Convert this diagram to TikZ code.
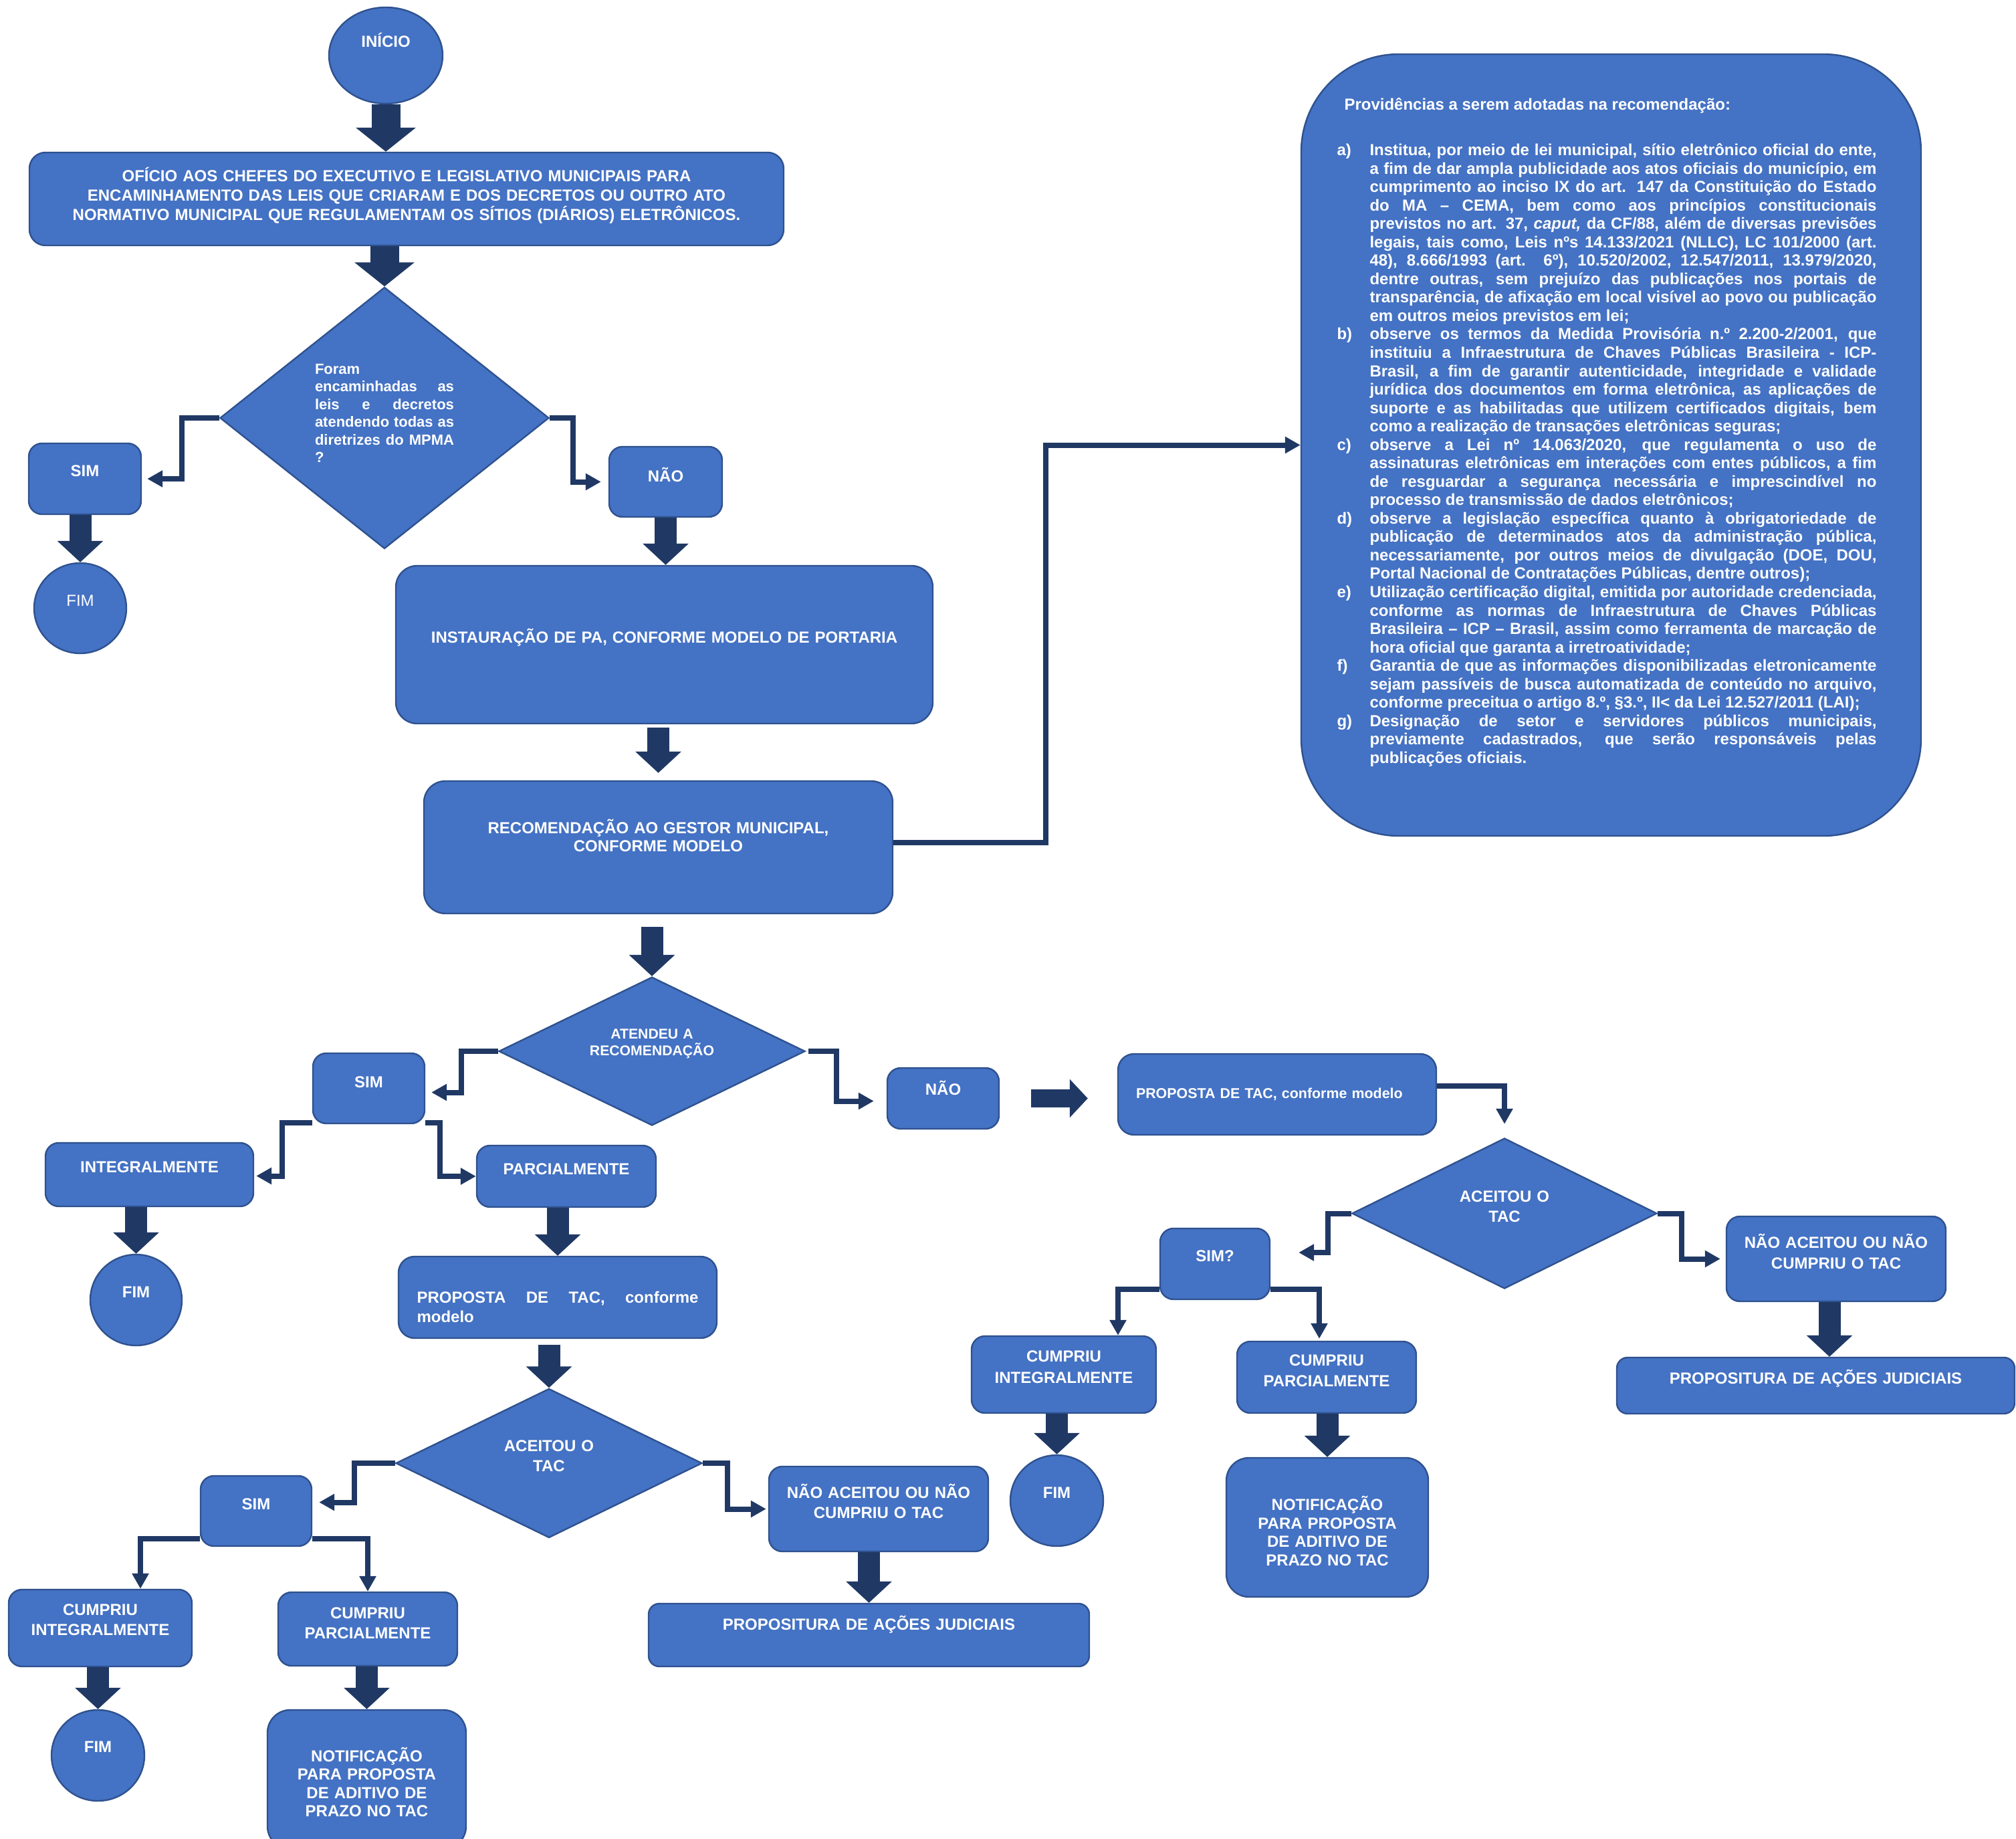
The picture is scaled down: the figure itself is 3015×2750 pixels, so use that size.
\documentclass[tikz,border=0pt]{standalone}
\usepackage{fontspec}
\setmainfont{Liberation Sans}
\usetikzlibrary{positioning}
\usetikzlibrary{shapes.geometric}
\usetikzlibrary{arrows.meta}

\definecolor{boxblue}{HTML}{4472C4}
\definecolor{boxedge}{HTML}{2F528F}
\definecolor{arrownavy}{HTML}{203864}

\hyphenpenalty=10000
\exhyphenpenalty=10000
\tolerance=9999

\newcommand\provitem[2]{\par\hangindent=24.5pt\hangafter=1\noindent\makebox[24.5pt][l]{#1)}#2}

\tikzset{
  shape base/.style={draw=boxedge, fill=boxblue, line width=1.2pt, text=white, inner sep=0pt,
    font=\bfseries\fontsize{12}{14.5}\selectfont, align=center},
  flowbox/.style={shape base, rectangle, rounded corners=#1},
  flowbox/.default=10pt,
  decision/.style={shape base, diamond, sharp corners},
  terminal/.style={shape base, ellipse, text width=45pt},
  lift/.style={execute at end node={\par\kern#1}},
  bigarrow/.style={draw=arrownavy, line width=16.5pt, -{Triangle[length=16pt,width=33.5pt]}},
  hugearrow/.style={draw=arrownavy, line width=21.5pt, -{Triangle[length=18pt,width=44pt]}},
  sidearrow/.style={draw=arrownavy, line width=13.5pt, -{Triangle[length=13.5pt,width=28pt]}},
  elbow/.style={draw=arrownavy, line width=4pt, -{Triangle[length=11.5pt,width=12pt]}},
}

\begin{document}
\begin{tikzpicture}[x=0.5pt, y=-0.5pt]
  \useasboundingbox (0,0) rectangle (3015,2750);

  %---------------- top ----------------
  \node[terminal, minimum width=85pt, minimum height=72pt, lift=23pt] (inicio) at (577,83) {INÍCIO};
  \node[flowbox=12pt, minimum width=564pt, minimum height=69.5pt, text width=540pt, lift=5.5pt] (oficio) at (608,297.5)
    {OFÍCIO AOS CHEFES DO EXECUTIVO E LEGISLATIVO MUNICIPAIS PARA\\ENCAMINHAMENTO DAS LEIS QUE CRIARAM E DOS DECRETOS OU OUTRO ATO\\NORMATIVO MUNICIPAL QUE REGULAMENTAM OS SÍTIOS (DIÁRIOS) ELETRÔNICOS.};
  \node[decision, aspect=1.26, minimum width=246pt, minimum height=195.5pt, text width=104pt, align=justify,
    font=\bfseries\fontsize{11}{13.25}\selectfont, lift=7pt] (dia1) at (575,625)
    {Foram\linebreak encaminhadas as\linebreak leis e decretos\linebreak atendendo todas as\linebreak diretrizes do MPMA\linebreak ?};
  \node[flowbox, minimum width=84pt, minimum height=53pt, text width=70pt, lift=12pt] (sim1) at (127,716) {SIM};
  \node[terminal, font=\fontsize{12}{14.5}\selectfont, minimum width=69pt, minimum height=67.5pt, lift=11.5pt] (fim1) at (120,909.5) {FIM};
  \node[flowbox, minimum width=84.5pt, minimum height=52.5pt, text width=70pt, lift=10.5pt] (nao1) at (995.5,720.5) {NÃO};
  \node[flowbox=16pt, minimum width=401.5pt, minimum height=118pt, text width=380pt, lift=11pt] (inst) at (993.5,964)
    {INSTAURAÇÃO DE PA, CONFORME MODELO DE PORTARIA};
  \node[flowbox=16pt, minimum width=350.5pt, minimum height=99pt, text width=330pt,
    font=\bfseries\fontsize{12}{13.5}\selectfont, lift=17.5pt] (recom) at (984.5,1267)
    {RECOMENDAÇÃO AO GESTOR MUNICIPAL,\\CONFORME MODELO};

  %---------------- providencias ----------------
  \node[flowbox=73pt, minimum width=463.5pt, minimum height=584.5pt, text width=410pt, align=justify,
    font=\bfseries\fontsize{12}{13.77}\selectfont, lift=19pt] (provid) at (2409.5,665.5) {%
    \rightskip=6.5pt
    \noindent\hspace*{5.5pt}Providências a serem adotadas na recomendação:\par\vspace{20.2pt}
    \provitem{a}{Institua, por meio de lei municipal, sítio eletrônico oficial do ente,\linebreak
      a fim de dar ampla publicidade aos atos oficiais do município, em\linebreak
      cumprimento ao inciso IX do art. 147 da Constituição do Estado\linebreak
      do MA – CEMA, bem como aos princípios constitucionais\linebreak
      previstos no art. 37, \textit{caput,} da CF/88, além de diversas previsões\linebreak
      legais, tais como, Leis nºs 14.133/2021 (NLLC), LC 101/2000 (art.\linebreak
      48), 8.666/1993 (art. 6º), 10.520/2002, 12.547/2011, 13.979/2020,\linebreak
      dentre outras, sem prejuízo das publicações nos portais de\linebreak
      transparência, de afixação em local visível ao povo ou publicação\linebreak
      em outros meios previstos em lei;}
    \provitem{b}{observe os termos da Medida Provisória n.º 2.200-2/2001, que\linebreak
      instituiu a Infraestrutura de Chaves Públicas Brasileira - ICP-\linebreak
      Brasil, a fim de garantir autenticidade, integridade e validade\linebreak
      jurídica dos documentos em forma eletrônica, as aplicações de\linebreak
      suporte e as habilitadas que utilizem certificados digitais, bem\linebreak
      como a realização de transações eletrônicas seguras;}
    \provitem{c}{observe a Lei nº 14.063/2020, que regulamenta o uso de\linebreak
      assinaturas eletrônicas em interações com entes públicos, a fim\linebreak
      de resguardar a segurança necessária e imprescindível no\linebreak
      processo de transmissão de dados eletrônicos;}
    \provitem{d}{observe a legislação específica quanto à obrigatoriedade de\linebreak
      publicação de determinados atos da administração pública,\linebreak
      necessariamente, por outros meios de divulgação (DOE, DOU,\linebreak
      Portal Nacional de Contratações Públicas, dentre outros);}
    \provitem{e}{Utilização certificação digital, emitida por autoridade credenciada,\linebreak
      conforme as normas de Infraestrutura de Chaves Públicas\linebreak
      Brasileira – ICP – Brasil, assim como ferramenta de marcação de\linebreak
      hora oficial que garanta a irretroatividade;}
    \provitem{f}{Garantia de que as informações disponibilizadas eletronicamente\linebreak
      sejam passíveis de busca automatizada de conteúdo no arquivo,\linebreak
      conforme preceitua o artigo 8.º, §3.º, II< da Lei 12.527/2011 (LAI);}
    \provitem{g}{Designação de setor e servidores públicos municipais,\linebreak
      previamente cadastrados, que serão responsáveis pelas\linebreak
      publicações oficiais.}\par};

  %---------------- atendeu ----------------
  \node[decision, aspect=2.06, minimum width=229pt, minimum height=111pt, text width=100pt,
    font=\bfseries\fontsize{10.6}{12.5}\selectfont, lift=11.5pt] (dia2) at (975,1572) {ATENDEU A\\RECOMENDAÇÃO};
  \node[flowbox, minimum width=83.5pt, minimum height=52.5pt, text width=70pt, lift=9.5pt] (sim2) at (551.5,1627.5) {SIM};
  \node[flowbox, minimum width=155.5pt, minimum height=47.5pt, text width=140pt, lift=11.5pt] (integ) at (223.5,1756.5) {INTEGRALMENTE};
  \node[flowbox, minimum width=134pt, minimum height=46pt, text width=120pt, lift=11pt] (parc) at (847,1759) {PARCIALMENTE};
  \node[terminal, minimum width=68.5pt, minimum height=68pt, lift=12pt] (fim2) at (203.5,1944) {FIM};
  \node[flowbox=12pt, minimum width=238pt, minimum height=61pt, text width=210.5pt, align=justify, lift=-17pt] (prop1) at (834,1940)
    {PROPOSTA DE TAC, conforme\linebreak modelo};

  %---------------- aceitou (left) ----------------
  \node[decision, aspect=2.06, minimum width=229pt, minimum height=111.5pt, text width=100pt,
    font=\bfseries\fontsize{12}{15}\selectfont, lift=11pt] (dia3) at (821,2188) {ACEITOU O\\TAC};
  \node[flowbox, minimum width=83pt, minimum height=52.5pt, text width=70pt, lift=10.5pt] (sim3) at (383,2259.5) {SIM};
  \node[flowbox, minimum width=137pt, minimum height=57.5pt, text width=125pt,
    font=\bfseries\fontsize{12}{15}\selectfont, lift=12.5pt] (cint1) at (150,2434.5) {CUMPRIU\\INTEGRALMENTE};
  \node[flowbox, minimum width=134pt, minimum height=55pt, text width=120pt,
    font=\bfseries\fontsize{12}{15}\selectfont, lift=9pt] (cpar1) at (550,2436) {CUMPRIU\\PARCIALMENTE};
  \node[terminal, minimum width=69.5pt, minimum height=68pt, lift=13pt] (fim3) at (146.5,2625) {FIM};
  \node[flowbox=17pt, minimum width=148.5pt, minimum height=104pt, text width=135pt,
    font=\bfseries\fontsize{12}{13.7}\selectfont, lift=-4pt] (notif1) at (548.5,2661)
    {NOTIFICAÇÃO\\PARA PROPOSTA\\DE ADITIVO DE\\PRAZO NO TAC};
  \node[flowbox, minimum width=164pt, minimum height=63.5pt, text width=150pt,
    font=\bfseries\fontsize{12}{15}\selectfont, lift=11.5pt] (naoac1) at (1314,2256.5) {NÃO ACEITOU OU NÃO\\CUMPRIU O TAC};
  \node[flowbox=8pt, minimum width=329.5pt, minimum height=47pt, text width=300pt, lift=16pt] (propos1) at (1299.5,2445)
    {PROPOSITURA DE AÇÕES JUDICIAIS};

  %---------------- nao / aceitou (right) ----------------
  \node[flowbox, minimum width=83.5pt, minimum height=45.5pt, text width=70pt, lift=15.5pt] (nao2) at (1410.5,1642.5) {NÃO};
  \node[flowbox=12pt, minimum width=238pt, minimum height=60.5pt, text width=211pt, inner xsep=13.5pt, align=left,
    font=\bfseries\fontsize{10.7}{13}\selectfont] (prop2) at (1910,1636.5) {PROPOSTA DE TAC, conforme modelo};
  \node[decision, aspect=2.03, minimum width=228pt, minimum height=112.5pt, text width=100pt,
    font=\bfseries\fontsize{12}{15}\selectfont, lift=10.5pt] (dia4) at (2250,1814.5) {ACEITOU O\\TAC};
  \node[flowbox, minimum width=82pt, minimum height=53pt, text width=70pt, lift=12pt] (sim4) at (1817,1890) {SIM?};
  \node[flowbox, minimum width=138pt, minimum height=57.5pt, text width=125pt,
    font=\bfseries\fontsize{12}{16}\selectfont, lift=11.5pt] (cint2) at (1591,2055.5) {CUMPRIU\\INTEGRALMENTE};
  \node[flowbox, minimum width=134pt, minimum height=53.5pt, text width=120pt,
    font=\bfseries\fontsize{12}{15.5}\selectfont, lift=10pt] (cpar2) at (1984,2059.5) {CUMPRIU\\PARCIALMENTE};
  \node[terminal, minimum width=69.5pt, minimum height=68pt, lift=12pt] (fim4) at (1580.5,2244) {FIM};
  \node[flowbox=17pt, minimum width=151pt, minimum height=104pt, text width=135pt,
    font=\bfseries\fontsize{12}{13.7}\selectfont, lift=-5.5pt] (notif2) at (1985,2284)
    {NOTIFICAÇÃO\\PARA PROPOSTA\\DE ADITIVO DE\\PRAZO NO TAC};
  \node[flowbox, minimum width=164pt, minimum height=63.5pt, text width=150pt,
    font=\bfseries\fontsize{12}{15.5}\selectfont, lift=11pt] (naoac2) at (2746,1882.5) {NÃO ACEITOU OU NÃO\\CUMPRIU O TAC};
  \node[flowbox=8pt, minimum width=297.5pt, minimum height=42pt, text width=280pt, lift=11pt] (propos2) at (2715.5,2072)
    {PROPOSITURA DE AÇÕES JUDICIAIS};

  %---------------- block arrows ----------------
  \draw[hugearrow] (inicio.south) -- (inicio.south |- oficio.north);
  \draw[hugearrow] (oficio.south -| dia1.north) -- (dia1.north);
  \draw[bigarrow] (sim1.south -| fim1.north) -- (fim1.north);
  \draw[bigarrow] (nao1.south) -- (nao1.south |- inst.north);
  \draw[bigarrow, shorten <=2.5pt, shorten >=5.5pt] (inst.south -| recom.north) -- (recom.north);
  \draw[bigarrow, shorten <=9.5pt] (recom.south -| dia2.north) -- (dia2.north);
  \draw[bigarrow] (integ.south -| fim2.north) -- (fim2.north);
  \draw[bigarrow] (parc.south -| prop1.north) -- (prop1.north);
  \draw[bigarrow, shorten <=4.5pt] (prop1.south -| dia3.north) -- (dia3.north);
  \draw[bigarrow] (cint1.south -| fim3.north) -- (fim3.north);
  \draw[bigarrow] (cpar1.south -| notif1.north) -- (notif1.north);
  \draw[bigarrow] (naoac1.south -| propos1.north) -- (propos1.north);
  \draw[sidearrow, shorten <=23.5pt, shorten >=22pt] (nao2.east) -- (nao2.east -| prop2.west);
  \draw[bigarrow] ([xshift=-5pt]naoac2.south) -- ([xshift=-5pt]naoac2.south |- propos2.north);
  \draw[bigarrow] (cint2.south -| fim4.north) -- (fim4.north);
  \draw[bigarrow] (cpar2.south -| notif2.north) -- (notif2.north);

  %---------------- elbow connectors ----------------
  \draw[elbow, shorten >=4pt] (dia1.west) -- ++(-56,0) |- (sim1.east);
  \draw[elbow, shorten >=5.5pt] (dia1.east) -- ++(35,0) |- (nao1.west);
  \draw[elbow] ([yshift=3.5pt]recom.east) -- ++(228,0) |- (provid.west);
  \draw[elbow, shorten >=4.5pt] (dia2.west) -- ++(-55,0) |- ([yshift=-3pt]sim2.east);
  \draw[elbow, shorten >=1.5pt] ([yshift=1pt]sim2.south west) -- ++(-45,0) |- ([yshift=-1pt]integ.east);
  \draw[elbow] ([yshift=1pt]sim2.south east) -- ++(22,0) |- (parc.west);
  \draw[elbow, shorten >=9.5pt] ([xshift=2pt]dia2.east) -- ++(42,0) |- ([yshift=-2pt]nao2.west);
  \draw[elbow, shorten >=5pt] (dia3.west) -- ++(-61,0) |- ([yshift=6.5pt]sim3.east);
  \draw[elbow] ([yshift=6pt]sim3.south west) -| ([xshift=30pt]cint1.north);
  \draw[elbow] ([yshift=6pt]sim3.south east) -| (cpar1.north);
  \draw[elbow, shorten >=1.5pt] (dia3.east) -- ++(37,0) |- (naoac1.west);
  \draw[elbow, shorten >=10pt] ([yshift=6.5pt]prop2.east) -| (dia4.north);
  \draw[elbow, shorten >=21pt] (dia4.west) -- ++(-35,0) |- ([yshift=8.5pt]sim4.east);
  \draw[elbow] ([yshift=8pt]sim4.south west) -| ([xshift=40.5pt]cint2.north);
  \draw[elbow, shorten >=1.5pt] ([yshift=8pt]sim4.south east) -| ([xshift=-5.5pt]cpar2.north);
  \draw[elbow, shorten >=4pt] (dia4.east) -- ++(36,0) |- (naoac2.west);
\end{tikzpicture}
\end{document}
